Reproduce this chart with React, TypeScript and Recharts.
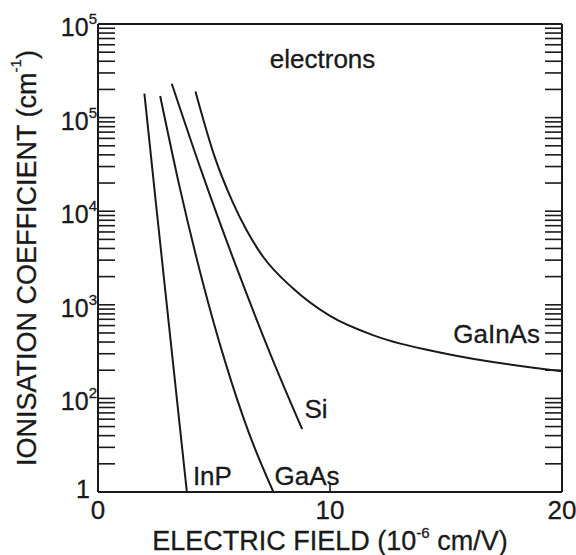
import { LineChart, Line, XAxis, YAxis, ReferenceDot } from "recharts";

// electric field (x) and ionisation coefficient (y)
const inpField = [2.0, 2.5, 3.0, 3.5, 3.83];
const inpAlpha = [1.8e5, 1.2e4, 830, 58, 10];

const gaasField = [2.68, 3.5, 4.5, 5.5, 6.5, 7.56];
const gaasAlpha = [1.7e5, 1.9e4, 1.8e3, 238, 43, 10];

const siField = [3.18, 4.5, 6.0, 7.5, 8.8];
const siAlpha = [2.3e5, 2.5e4, 2.4e3, 270, 47];

const gainasField = [4.2, 5.0, 5.8, 6.4, 7.1, 8.4, 10, 12, 15, 20];
const gainasAlpha = [1.9e5, 4.0e4, 1.26e4, 6.3e3, 3.3e3, 1.5e3, 760, 460, 300, 195];

// axis ticks and their labels (as printed)
const xTicks = [0, 10, 20];
const xTickLabels = ["0", "10", "20"];
const yDecades = [10, 100, 1e3, 1e4, 1e5, 1e6];
const yTickBase = ["1", "10", "10", "10", "10", "10"];
const yTickExp = ["", "2", "3", "4", "5", "5"];

// curve annotations
const curveNames = ["InP", "GaAs", "Si", "GaInAs", "electrons"];
const curveNameX = [4.09, 7.61, 8.9, 19.05, 9.68];
const curveNameY = [11.9, 11.9, 62, 390, 3.4e5];
const curveNameAnchor = ["start", "start", "start", "end", "middle"];

const INK = "#1a1a1a";
const FONT = "'Liberation Sans', Arial, Helvetica, sans-serif";

const yMinor: number[] = [];
yDecades.slice(0, -1).forEach((d) => {
  for (let k = 1; k <= 9; k++) yMinor.push(d * k);
});
yMinor.push(1e6);

const toRows = (xs: number[], ys: number[]) =>
  xs.map((x, i) => ({ field: x, alpha: ys[i] }));

const series = [
  { name: "InP", rows: toRows(inpField, inpAlpha) },
  { name: "GaAs", rows: toRows(gaasField, gaasAlpha) },
  { name: "Si", rows: toRows(siField, siAlpha) },
  { name: "GaInAs", rows: toRows(gainasField, gainasAlpha) },
];

const textStyle = { stroke: INK, strokeWidth: 0.3 };

const LeftTick = (props: any) => {
  const { x, y, payload } = props;
  const i = yDecades.indexOf(payload.value);
  return (
    <g>
      <line x1={x} x2={x + 17} y1={y} y2={y} stroke={INK} strokeWidth={1.6} />
      {i >= 0 && (
        <text
          x={yTickExp[i] ? x - 1 : x - 8}
          y={yTickExp[i] ? y + 12 : y + 6}
          textAnchor="end"
          fontSize={25}
          fill={INK}
          fontFamily={FONT}
          style={textStyle}
        >
          {yTickBase[i]}
          {yTickExp[i] ? (
            <tspan dy={-12} fontSize={15}>
              {yTickExp[i]}
            </tspan>
          ) : null}
        </text>
      )}
    </g>
  );
};

const RightTick = (props: any) => {
  const { x, y } = props;
  return <line x1={x} x2={x - 17} y1={y} y2={y} stroke={INK} strokeWidth={1.6} />;
};

const BottomTick = (props: any) => {
  const { x, y, payload } = props;
  const i = xTicks.indexOf(payload.value);
  return (
    <g>
      <line x1={x} x2={x} y1={y} y2={y - 9} stroke={INK} strokeWidth={1.6} />
      <text
        x={x}
        y={y + 27}
        textAnchor="middle"
        fontSize={26}
        fill={INK}
        fontFamily={FONT}
        style={textStyle}
      >
        {xTickLabels[i]}
      </text>
    </g>
  );
};

const TopTick = (props: any) => {
  const { x, y } = props;
  return <line x1={x} x2={x} y1={y} y2={y + 12} stroke={INK} strokeWidth={1.6} />;
};

const XTitle = (props: any) => {
  const { viewBox } = props;
  return (
    <text
      x={viewBox.x + viewBox.width / 2}
      y={viewBox.y + 58}
      textAnchor="middle"
      fontSize={27}
      fill={INK}
      fontFamily={FONT}
      style={textStyle}
    >
      ELECTRIC FIELD (10
      <tspan dy={-12} fontSize={15}>
        -6
      </tspan>
      <tspan dy={12}> cm/V)</tspan>
    </text>
  );
};

const YTitle = (props: any) => {
  const { viewBox } = props;
  const cx = 27;
  const cy = viewBox.y + viewBox.height / 2;
  return (
    <text
      x={cx}
      y={cy}
      transform={`rotate(-90, ${cx}, ${cy})`}
      textAnchor="middle"
      dominantBaseline="central"
      fontSize={27}
      fill={INK}
      fontFamily={FONT}
      style={textStyle}
    >
      IONISATION COEFFICIENT (cm
      <tspan dy={-12} fontSize={15}>
        -1
      </tspan>
      <tspan dy={12}>)</tspan>
    </text>
  );
};

export default function App() {
  return (
    <div style={{ position: "absolute", left: 0, top: 0, background: "#fff" }}>
      <LineChart
        width={576}
        height={555}
        margin={{ top: 23, right: 13, bottom: 62, left: 97 }}
      >
        <XAxis
          dataKey="field"
          type="number"
          domain={[0, 20]}
          ticks={xTicks}
          interval={0}
          height={1}
          tickSize={0}
          tickMargin={0}
          tickLine={false}
          tick={<BottomTick />}
          axisLine={{ stroke: INK, strokeWidth: 2 }}
          allowDataOverflow
          label={<XTitle />}
        />
        <XAxis
          xAxisId="top"
          orientation="top"
          type="number"
          domain={[0, 20]}
          ticks={[10]}
          interval={0}
          height={1}
          tickSize={0}
          tickMargin={0}
          tickLine={false}
          tick={<TopTick />}
          axisLine={{ stroke: INK, strokeWidth: 2 }}
          allowDataOverflow
        />
        <YAxis
          scale="log"
          type="number"
          domain={[10, 1e6]}
          ticks={yMinor}
          interval={0}
          width={1}
          tickSize={0}
          tickMargin={0}
          tickLine={false}
          tick={<LeftTick />}
          axisLine={{ stroke: INK, strokeWidth: 2 }}
          allowDataOverflow
          label={<YTitle />}
        />
        <YAxis
          yAxisId="right"
          orientation="right"
          scale="log"
          type="number"
          domain={[10, 1e6]}
          ticks={yMinor}
          interval={0}
          width={1}
          tickSize={0}
          tickMargin={0}
          tickLine={false}
          tick={<RightTick />}
          axisLine={{ stroke: INK, strokeWidth: 2 }}
          allowDataOverflow
        />
        {series.map((s) => (
          <Line
            key={s.name}
            data={s.rows}
            dataKey="alpha"
            type="monotone"
            stroke={INK}
            strokeWidth={2}
            dot={false}
            activeDot={false}
            isAnimationActive={false}
          />
        ))}
        {curveNames.map((n, i) => (
          <ReferenceDot
            key={n}
            x={curveNameX[i]}
            y={curveNameY[i]}
            r={0}
            ifOverflow="visible"
            shape={(p: any) => (
              <text
                x={p.cx}
                y={p.cy}
                textAnchor={curveNameAnchor[i] as any}
                fontSize={26}
                fill={INK}
                fontFamily={FONT}
                style={textStyle}
              >
                {n}
              </text>
            )}
          />
        ))}
      </LineChart>
    </div>
  );
}
